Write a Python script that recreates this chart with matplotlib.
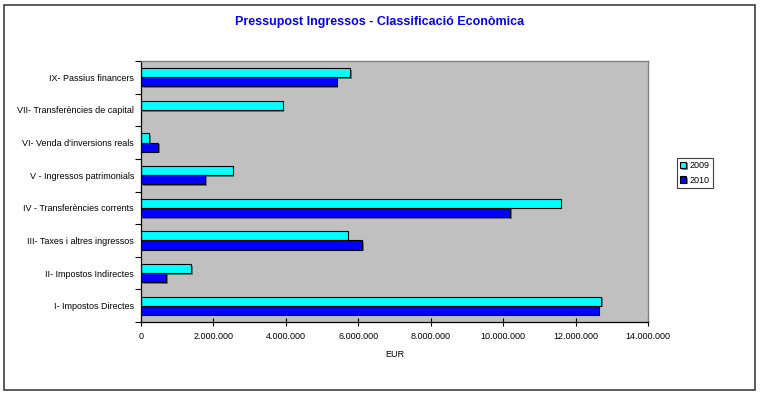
import matplotlib.pyplot as plt
import matplotlib.patheffects as pe
from matplotlib.patches import Rectangle
from matplotlib.ticker import FuncFormatter
import numpy as np

plt.rcParams['font.family'] = ['Liberation Sans', 'DejaVu Sans']

# categories, bottom to top
categories = [
    "I- Impostos Directes",
    "II- Impostos Indirectes",
    "III- Taxes i altres ingressos",
    "IV - Transferències corrents",
    "V - Ingressos patrimonials",
    "VI- Venda d'inversions reals",
    "VII- Transferències de capital",
    "IX- Passius financers",
]
values_2009 = [12700000, 1390000, 5710000, 11590000, 2530000, 230000, 3910000, 5770000]
values_2010 = [12640000, 690000, 6100000, 10200000, 1770000, 470000, 0, 5400000]
x_ticks = [0, 2000000, 4000000, 6000000, 8000000, 10000000, 12000000, 14000000]

fig = plt.figure(figsize=(7.6, 3.95), dpi=100)
ax = fig.add_axes([141 / 760, 1 - 322 / 395, 507 / 760, 261 / 395])

y = np.arange(len(categories))
h = 0.28
shadow = [pe.SimplePatchShadow(offset=(1.2, -1.2), shadow_rgbFace="#606060", alpha=0.8), pe.Normal()]
b1 = ax.barh(y + h / 2, values_2009, height=h, color="#00FFFF", edgecolor="black", linewidth=0.8, label="2009")
b2 = ax.barh(y - h / 2, values_2010, height=h, color="#0000FF", edgecolor="black", linewidth=0.8, label="2010")
for bar in list(b1) + list(b2):
    if bar.get_width() > 0:
        bar.set_path_effects(shadow)
    else:
        bar.set_visible(False)

ax.set_facecolor("#C0C0C0")
ax.set_xlim(0, 14000000)
ax.set_ylim(-0.5, len(categories) - 0.5)

ax.set_xticks(x_ticks)
ax.xaxis.set_major_formatter(FuncFormatter(lambda v, p: f"{int(v):,}".replace(",", ".")))
ax.tick_params(axis="x", direction="inout", length=6, width=0.8, labelsize=6.5, pad=4)

ax.set_yticks(y)
ax.set_yticklabels(categories)
ax.set_yticks(np.arange(-0.5, len(categories)), minor=True)
ax.tick_params(axis="y", which="major", length=0, labelsize=6.5, pad=5)
ax.tick_params(axis="y", which="minor", direction="out", length=4, width=0.8)

for s in ["left", "bottom"]:
    ax.spines[s].set_color("black")
    ax.spines[s].set_linewidth(0.9)
for s in ["top", "right"]:
    ax.spines[s].set_color("#808080")
    ax.spines[s].set_linewidth(1.0)

ax.set_xlabel("EUR", fontsize=6.5, labelpad=7)

fig.text(0.5, 1 - 22 / 395, "Pressupost Ingressos - Classificació Econòmica",
         ha="center", va="center", color="#0000FF", fontsize=9, fontweight="bold")

leg = fig.legend(handles=[b1, b2], labels=["2009", "2010"], loc="upper left",
                 bbox_to_anchor=(672 / 760, 1 - 153 / 395), fontsize=6.5,
                 handlelength=0.7, handleheight=0.7, handletextpad=0.3,
                 borderpad=0.4, labelspacing=0.6, fancybox=False, framealpha=1,
                 edgecolor="#404040")
leg.get_frame().set_linewidth(0.8)

# outer chart border
fig.patches.append(Rectangle((4 / 760, 5 / 395), 751 / 760, 385 / 395, transform=fig.transFigure,
                             fill=False, edgecolor="#404040", linewidth=1.2))

fig.savefig("out.png", dpi=100)
